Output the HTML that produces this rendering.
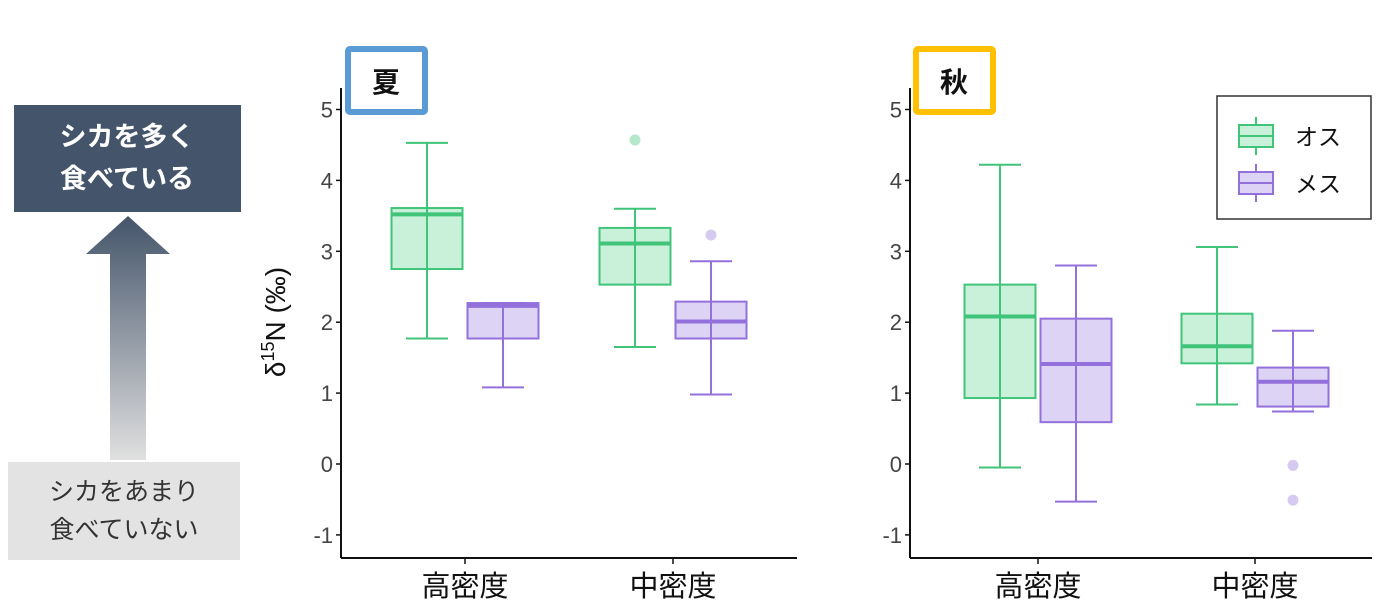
<!DOCTYPE html>
<html><head><meta charset="utf-8"><style>
body{margin:0;background:#fff;width:1399px;height:615px;overflow:hidden;font-family:"Liberation Sans","Noto Sans CJK JP",sans-serif}
svg{position:absolute;left:0;top:0}
</style></head><body>
<svg width="1399" height="615" viewBox="0 0 1399 615">
<defs><linearGradient id="ag" x1="0" y1="0" x2="0" y2="1"><stop offset="0" stop-color="#44546a"/><stop offset="1" stop-color="#e0e0e0"/></linearGradient></defs>
<g>
<rect x="14" y="105" width="227" height="107" fill="#44546a"/>
<text x="127" y="146" fill="#fff" font-size="27" font-weight="bold" text-anchor="middle">シカを多く</text>
<text x="127" y="188" fill="#fff" font-size="27" font-weight="bold" text-anchor="middle">食べている</text>
<polygon points="86,254 128,216 170,254 146,254 146,460 110,460 110,254" fill="url(#ag)"/>
<rect x="8" y="462" width="232" height="98" fill="#e3e3e3"/>
<text x="124" y="500" fill="#333" font-size="25" text-anchor="middle">シカをあまり</text>
<text x="124" y="538" fill="#333" font-size="25" text-anchor="middle">食べていない</text>
</g>
<text transform="translate(285,322) rotate(-90)" font-size="28" text-anchor="middle" fill="#111">δ<tspan font-size="18" dy="-11">15</tspan><tspan dy="11">N (‰)</tspan></text>
<g id="plots"></g>
</svg>
<script>
const categories = ["高密度", "中密度"];
const seriesNames = ["オス", "メス"];
// [whiskerLow, q1, median, q3, whiskerHigh]
const summerMale = [[1.77, 2.75, 3.52, 3.61, 4.53], [1.65, 2.53, 3.11, 3.33, 3.60]];
const summerFemale = [[1.08, 1.77, 2.23, 2.27, 2.27], [0.98, 1.77, 2.01, 2.29, 2.86]];
const summerMaleOutliers = [[], [4.57]];
const summerFemaleOutliers = [[], [3.23]];
const autumnMale = [[-0.05, 0.93, 2.08, 2.53, 4.22], [0.84, 1.42, 1.66, 2.12, 3.06]];
const autumnFemale = [[-0.53, 0.59, 1.41, 2.05, 2.80], [0.74, 0.81, 1.16, 1.36, 1.88]];
const autumnMaleOutliers = [[], []];
const autumnFemaleOutliers = [[], [-0.02, -0.51]];
const yTicks = [-1, 0, 1, 2, 3, 4, 5];

const NS = "http://www.w3.org/2000/svg";
const root = document.getElementById("plots");
const colors = [{s:"#3fc47a", f:"#c9f0d9", o:"#b5e8cb"}, {s:"#9370db", f:"#ddd3f4", o:"#d6caf0"}];
function mk(tag, attrs, parent){const e=document.createElementNS(NS,tag);for(const k in attrs)e.setAttribute(k,attrs[k]);parent.appendChild(e);return e;}
const yScale = v => 464 - v*70.9;

function panel(px0, px1, catX, male, female, maleOut, femaleOut, label, labelX, labelColor, legend, pname){
  const g = mk("g", {}, root);
  
  
  const ax = mk("line", {x1:px0, y1:88, x2:px0, y2:558, stroke:"#111", "stroke-width":2}, g);
  
  
  const bx = mk("line", {x1:px0, y1:558, x2:px1, y2:558, stroke:"#111", "stroke-width":2}, g);
  
  
  yTicks.forEach(t=>{
    const y=yScale(t);
    mk("line",{x1:px0-5,y1:y,x2:px0,y2:y,stroke:"#111","stroke-width":1.5},g);
    const tx=mk("text",{x:px0-8,y:y+8,"font-size":22,fill:"#444","text-anchor":"end"},g);
    tx.textContent=t;
    
    
  });
  categories.forEach((c,i)=>{
    const x=catX[i];
    mk("line",{x1:x,y1:558,x2:x,y2:564,stroke:"#111","stroke-width":1.5},g);
    const tx=mk("text",{x:x,y:596,"font-size":29,fill:"#111","text-anchor":"middle"},g);
    tx.textContent=c;
    
    
    [male,female].forEach((ser,si)=>{
      const d=ser[i], col=colors[si], cx=x+(si===0?-38:38), w=71;
      const bg=mk("g",{},g);
      
      
      mk("line",{x1:cx,y1:yScale(d[0]),x2:cx,y2:yScale(d[4]),stroke:col.s,"stroke-width":2},bg);
      mk("line",{x1:cx-21,y1:yScale(d[0]),x2:cx+21,y2:yScale(d[0]),stroke:col.s,"stroke-width":2},bg);
      mk("line",{x1:cx-21,y1:yScale(d[4]),x2:cx+21,y2:yScale(d[4]),stroke:col.s,"stroke-width":2},bg);
      mk("rect",{x:cx-w/2,y:yScale(d[3]),width:w,height:yScale(d[1])-yScale(d[3]),fill:col.f,stroke:col.s,"stroke-width":2},bg);
      mk("line",{x1:cx,y1:yScale(d[1]),x2:cx,y2:yScale(d[3]),stroke:col.s,"stroke-width":2},bg);
      mk("line",{x1:cx-w/2,y1:yScale(d[2]),x2:cx+w/2,y2:yScale(d[2]),stroke:col.s,"stroke-width":4},bg);
      (si===0?maleOut:femaleOut)[i].forEach(v=>{
        const o=mk("circle",{cx:cx,cy:yScale(v),r:5.5,fill:col.o},bg);
        
        
      });
    });
  });
  const lb=mk("g",{},root);
  
  
  mk("rect",{x:labelX,y:49,width:77,height:63,fill:"#fff",stroke:labelColor,"stroke-width":6,rx:2},lb);
  const lt=mk("text",{x:labelX+38,y:92,"font-size":28,"font-weight":"bold","text-anchor":"middle",fill:"#111"},lb);
  lt.textContent=label;
  if(legend){
    const lg=mk("g",{},root);
    
    
    mk("rect",{x:1217,y:96,width:154,height:123,fill:"#fff",stroke:"#333","stroke-width":1.5},lg);
    seriesNames.forEach((n,si)=>{
      const cy=[136,183][si], col=colors[si];
      const e=mk("g",{},lg);
      
      
      mk("line",{x1:1256,y1:cy-19,x2:1256,y2:cy+19,stroke:col.s,"stroke-width":2},e);
      mk("rect",{x:1239,y:cy-11,width:34,height:22,fill:col.f,stroke:col.s,"stroke-width":2},e);
      mk("line",{x1:1239,y1:cy,x2:1273,y2:cy,stroke:col.s,"stroke-width":2},e);
      const t=mk("text",{x:1295,y:cy+9,"font-size":23,fill:"#111"},e);
      t.textContent=n;
    });
  }
}
panel(341, 797, [465, 673], summerMale, summerFemale, summerMaleOutliers, summerFemaleOutliers, "夏", 348, "#5b9bd5", false, "summer-panel");
panel(910, 1372, [1038, 1255], autumnMale, autumnFemale, autumnMaleOutliers, autumnFemaleOutliers, "秋", 916, "#ffc000", true, "autumn-panel");
</script>
</body></html>
